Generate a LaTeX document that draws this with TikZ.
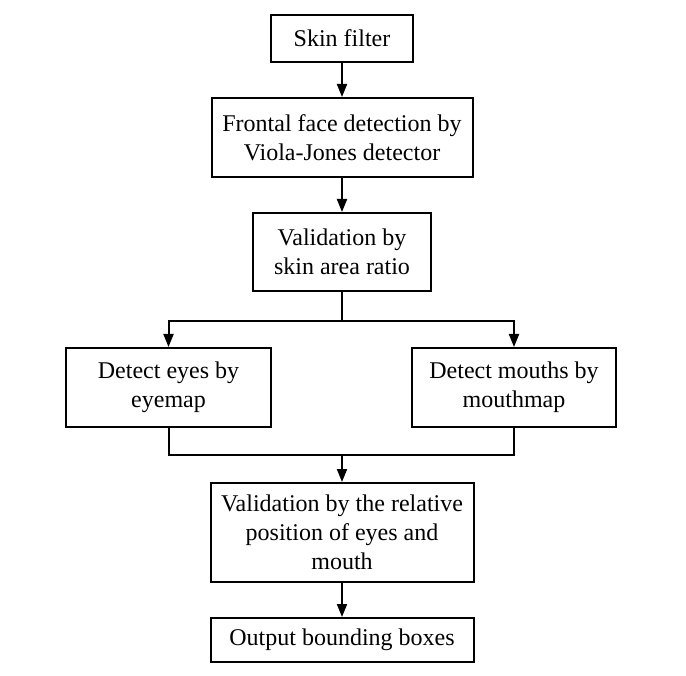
\documentclass[tikz,border=0pt]{standalone}
\usepackage{fontspec}
\setmainfont{Liberation Serif}
\usetikzlibrary{arrows.meta}
\begin{document}
\begin{tikzpicture}[x=1pt,y=-1pt,
  box/.style={draw, line width=2pt, align=center, inner sep=0pt, font=\fontsize{24}{29}\selectfont},
  ln/.style={line width=2pt},
  arr/.style={line width=2pt, -{Triangle[length=13pt,width=10pt]}}]
\useasboundingbox (0,0) rectangle (686,676);
\node[box, minimum width=142, minimum height=47] (sf) at (342,38.5) {Skin filter};
\node[box, minimum width=261, minimum height=79] (ff) at (342,137.5) {Frontal face detection by\\Viola-Jones detector};
\node[box, minimum width=178, minimum height=78] (va) at (342,252) {Validation by\\skin area ratio};
\node[box, minimum width=205, minimum height=79] (eyes) at (168.5,387.5) {Detect eyes by\\eyemap};
\node[box, minimum width=204, minimum height=79] (mouth) at (514,387.5) {Detect mouths by\\mouthmap};
\node[box, minimum width=263, minimum height=99] (rel) at (342,532.5) {Validation by the relative\\position of eyes and\\mouth};
\node[box, minimum width=263, minimum height=44] (out) at (342,640) {Output bounding boxes};
\coordinate (jt) at (342,321);
\coordinate (jb) at (342,455);
\draw[arr] (sf) -- (ff);
\draw[arr] (ff) -- (va);
\draw[ln] (va.south) -- (jt);
\draw[arr] (jt) -| (eyes.north);
\draw[arr] (jt) -| (mouth.north);
\draw[ln] (eyes.south) |- (jb);
\draw[ln] (mouth.south) |- (jb);
\draw[arr] (jb) -- (rel.north);
\draw[arr] (rel) -- (out);
\end{tikzpicture}
\end{document}
